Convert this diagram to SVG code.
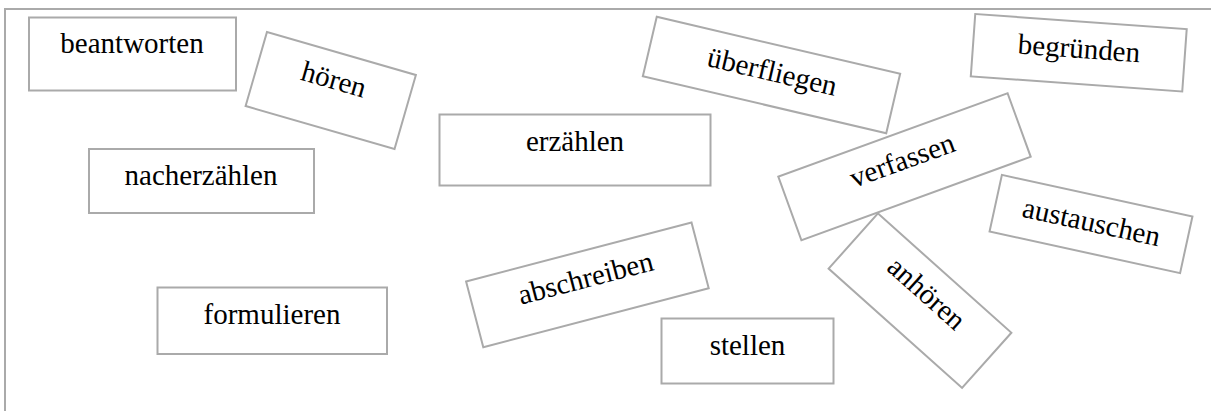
<svg xmlns="http://www.w3.org/2000/svg" width="1211" height="411" viewBox="0 0 1211 411">
<style>
.box{fill:#fff;stroke:#aaaaaa;stroke-width:2}
.lbl{font-family:"Liberation Serif","Times New Roman",serif;font-size:29px;fill:#000;text-anchor:middle}
.frame{fill:none;stroke:#aaaaaa;stroke-width:2}
</style>
<rect width="1211" height="411" fill="#fff"/>
<path class="frame" d="M5,411 V9 H1211"/>
<g id="beantworten"><rect class="box" x="29" y="17.5" width="207" height="73"/><text class="lbl" x="132" y="53">beantworten</text></g>
<g id="nacherzaehlen"><rect class="box" x="89" y="149" width="225" height="64"/><text class="lbl" x="201" y="185">nacherzählen</text></g>
<g id="formulieren"><rect class="box" x="157.5" y="287.5" width="229.5" height="66.5"/><text class="lbl" x="272" y="324">formulieren</text></g>
<g id="erzaehlen"><rect class="box" x="439.5" y="114.5" width="271" height="71"/><text class="lbl" x="575" y="151">erzählen</text></g>
<g id="stellen"><rect class="box" x="661.5" y="318.5" width="172" height="65"/><text class="lbl" x="747.5" y="355">stellen</text></g>
<g id="hoeren" transform="translate(330.75,90.5) rotate(16.1)"><rect class="box" x="-77.5" y="-38.5" width="155" height="77"/><text class="lbl" x="0" y="-2">hören</text></g>
<g id="ueberfliegen" transform="translate(771.5,75) rotate(13.2)"><rect class="box" x="-125" y="-30.5" width="250" height="61"/><text class="lbl" x="0" y="6">überfliegen</text></g>
<g id="begruenden" transform="translate(1078.75,52.75) rotate(4.1)"><rect class="box" x="-106" y="-31.25" width="212" height="62.5"/><text class="lbl" x="0" y="5.25">begründen</text></g>
<g id="anhoeren" transform="translate(920,300.7) rotate(41.8)"><rect class="box" x="-89.5" y="-37" width="179" height="74"/><text class="lbl" x="0" y="-0.5">anhören</text></g>
<g id="verfassen" transform="translate(904.5,166.7) rotate(-20)"><rect class="box" x="-122" y="-33.8" width="244" height="67.6"/><text class="lbl" x="0" y="2.7">verfassen</text></g>
<g id="austauschen" transform="translate(1091,224) rotate(12.3)"><rect class="box" x="-97.5" y="-29" width="195" height="58"/><text class="lbl" x="0" y="7.5">austauschen</text></g>
<g id="abschreiben" transform="translate(587.4,284.85) rotate(-14.65)"><rect class="box" x="-116.5" y="-34" width="233" height="68"/><text class="lbl" x="0" y="2.5">abschreiben</text></g>
<g id="connectors"></g>
</svg>
